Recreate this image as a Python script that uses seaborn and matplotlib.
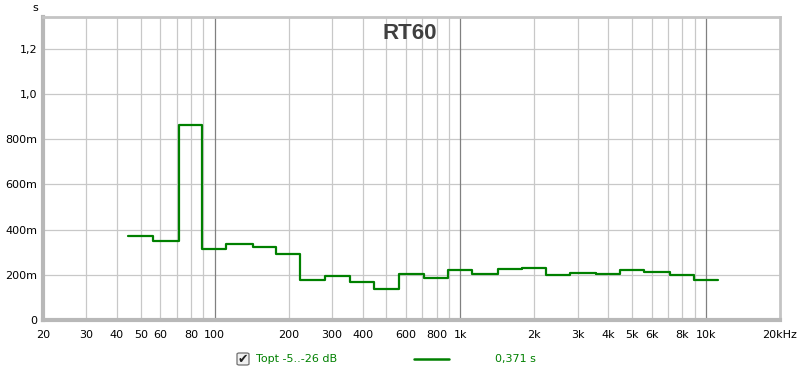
import numpy as np
import pandas as pd
import matplotlib
matplotlib.use("Agg")
import matplotlib.pyplot as plt
import matplotlib.ticker as mticker
from matplotlib.patches import FancyBboxPatch
import seaborn as sns

# 1/3-octave band centres (Hz) and RT60 values (s)
band_centres = [50, 63, 80, 100, 125, 160, 200, 250, 315, 400, 500, 630, 800,
                1000, 1250, 1600, 2000, 2500, 3150, 4000, 5000, 6300, 8000, 10000]
rt60_values = [0.373, 0.351, 0.861, 0.316, 0.338, 0.323, 0.291, 0.178, 0.193,
               0.167, 0.139, 0.204, 0.186, 0.223, 0.204, 0.224, 0.230, 0.200,
               0.209, 0.205, 0.220, 0.212, 0.198, 0.177]

x_tick_values = [20, 30, 40, 50, 60, 80, 100, 200, 300, 400, 600, 800, 1000,
                 2000, 3000, 4000, 5000, 6000, 8000, 10000, 20000]
x_tick_labels = ["20", "30", "40", "50", "60", "80", "100", "200", "300", "400",
                 "600", "800", "1k", "2k", "3k", "4k", "5k", "6k", "8k", "10k", "20kHz"]
y_tick_values = [0, 0.2, 0.4, 0.6, 0.8, 1.0, 1.2]
y_tick_labels = ["0", "200m", "400m", "600m", "800m", "1,0", "1,2"]

legend_name = "Topt -5..-26 dB"
legend_value = "0,371 s"
title = "RT60"

# step edges from band centres (1/3 octave)
centres = np.array(band_centres, dtype=float)
lower = centres * 2 ** (-1 / 6)
upper = centres * 2 ** (1 / 6)
edges = np.append(lower, upper[-1])
vals = np.append(rt60_values, rt60_values[-1])
df = pd.DataFrame({"freq": edges, "rt60": vals})

sns.set_theme(style="white")
plt.rcParams["font.family"] = ["DejaVu Sans"]

fig = plt.figure(figsize=(8, 3.73), dpi=100)
ax = fig.add_axes([43 / 800, 53 / 373, 737 / 800, 303 / 373])

sns.lineplot(data=df, x="freq", y="rt60", ax=ax, color="#008000", linewidth=1.6,
             drawstyle="steps-post", zorder=5)

ax.set_xscale("log")
ax.set_xlim(20, 20000)
ax.set_ylim(0, 1.34)

# grid
minor_grid = [f for d in (10, 100, 1000, 10000) for f in range(2 * d, 10 * d, d) if 20 < f < 20000]
for f in minor_grid:
    ax.axvline(f, color="#c8c8c8", linewidth=0.9, zorder=1)
for f in (100, 1000, 10000):
    ax.axvline(f, color="#808080", linewidth=0.9, zorder=2)
for yv in y_tick_values[1:]:
    ax.axhline(yv, color="#c8c8c8", linewidth=0.9, zorder=1)

ax.xaxis.set_major_locator(mticker.FixedLocator(x_tick_values))
ax.xaxis.set_major_formatter(mticker.FixedFormatter(x_tick_labels))
ax.xaxis.set_minor_locator(mticker.NullLocator())
ax.set_yticks(y_tick_values)
ax.set_yticklabels(y_tick_labels)
ax.tick_params(axis="both", length=0, labelsize=8, colors="black")
ax.tick_params(axis="x", pad=7)
ax.tick_params(axis="y", pad=4)
ax.set_xlabel("")
ax.set_ylabel("")

for side in ("top", "right"):
    ax.spines[side].set_color("#c4c4c4")
    ax.spines[side].set_linewidth(2.0)
for side in ("left", "bottom"):
    ax.spines[side].set_color("#b8b8b8")
    ax.spines[side].set_linewidth(3.0)
    ax.spines[side].set_visible(True)

ax.text(0.498, 0.947, title, transform=ax.transAxes, ha="center", va="center",
        fontsize=16, fontweight="bold", color="#404040",
        family=["Liberation Sans", "DejaVu Sans"], zorder=6)

fig.text(35 / 800, 1 - 8 / 373, "s", ha="center", va="center", fontsize=8, color="black")

# legend row
ly = 1 - 359 / 373
box = FancyBboxPatch((237 / 800, ly - 6 / 373), 12 / 800, 12 / 373,
                     boxstyle="round,pad=0.0,rounding_size=0.003",
                     transform=fig.transFigure, facecolor="#f0f0f0",
                     edgecolor="#707070", linewidth=0.9)
fig.patches.append(box)
fig.text(243 / 800, ly, "\u2714", ha="center", va="center", fontsize=9, color="#202020")
fig.text(256 / 800, ly, legend_name, ha="left", va="center", fontsize=8, color="#008000")
fig.add_artist(plt.Line2D([414 / 800, 449 / 800], [ly, ly], transform=fig.transFigure,
                          color="#008000", linewidth=1.8))
fig.text(495 / 800, ly, legend_value, ha="left", va="center", fontsize=8, color="#008000")

fig.savefig("out.png", dpi=100)
